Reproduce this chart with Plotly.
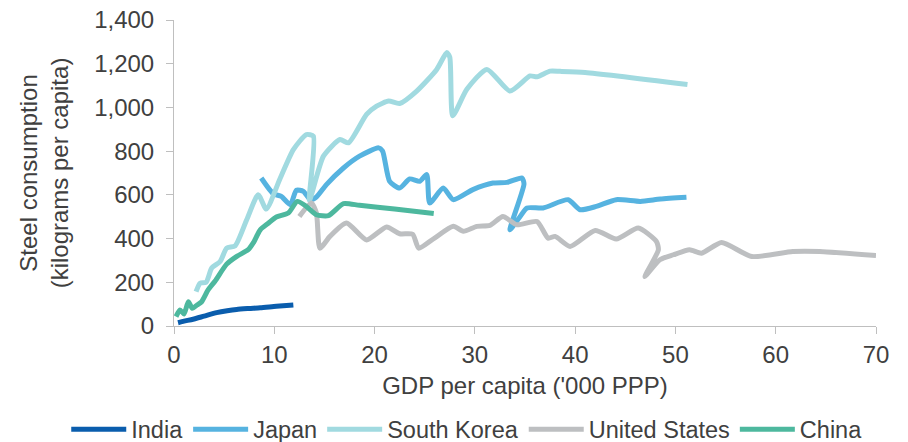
import plotly.graph_objects as go

india_x = [0.4, 1.0, 1.9, 3.0, 4.25, 5.3, 6.25, 7.5, 8.6, 10.2, 11.9]
india_y = [15, 22, 31, 45, 61, 70, 76, 80, 83, 90, 96]

japan_x = [8.7, 9.9, 10.7, 11.6, 12.2, 12.9, 13.6, 14.2, 15.2, 16.9, 18.5, 20.4, 20.8, 21.5, 22.5, 23.5, 24.5, 25.2, 25.5, 26.85, 27.85, 29.8, 31.8, 33.2, 34.7, 34.9, 33.5, 34.5, 35.2, 36.8, 39.3, 40.5, 42.1, 44.1, 46.5, 48.5, 51.1]
japan_y = [677, 605, 593, 555, 621, 616, 578, 590, 647, 723, 777, 815, 800, 662, 631, 673, 662, 693, 563, 631, 578, 624, 654, 657, 677, 650, 440, 500, 540, 540, 578, 532, 547, 578, 570, 581, 589]

korea_x = [2.2, 2.6, 3.2, 3.76, 4.6, 5.25, 6.1, 7.25, 8.4, 9.2, 10.6, 11.9, 13.2, 13.9, 13.5, 14.9, 16.55, 17.4, 19.2, 20.2, 21.4, 22.5, 24.2, 26.2, 27.2, 27.5, 27.8, 29.2, 31.2, 33.5, 35.5, 36.2, 37.5, 38.5, 41.0, 51.2]
korea_y = [157, 196, 200, 265, 295, 356, 367, 486, 601, 535, 677, 807, 876, 868, 575, 777, 853, 838, 968, 1006, 1029, 1018, 1075, 1174, 1251, 1230, 962, 1083, 1174, 1075, 1144, 1140, 1166, 1165, 1160, 1105]

us_x = [12.5, 13.7, 14.2, 14.55, 15.55, 17.2, 19.2, 21.2, 22.5, 23.8, 24.4, 25.85, 27.85, 28.85, 30.2, 31.5, 32.8, 34.2, 36.2, 37.3, 38.0, 39.5, 42.0, 44.1, 46.3, 48.1, 48.3, 46.95, 48.45, 49.8, 51.4, 52.6, 54.6, 57.6, 61.7, 64.4, 70.0]
us_y = [501, 563, 517, 356, 410, 471, 394, 453, 422, 420, 356, 398, 456, 433, 456, 460, 501, 463, 478, 402, 410, 364, 437, 398, 448, 387, 349, 226, 303, 326, 349, 333, 382, 318, 341, 341, 322]

china_x = [0.2, 0.6, 1.0, 1.43, 1.83, 2.3, 2.76, 3.4, 4.1, 5.25, 6.3, 7.4, 7.9, 8.6, 9.4, 10.2, 11.4, 12.3, 13.2, 14.2, 15.4, 16.9, 18.5, 22.0, 25.9]
china_y = [43, 73, 55, 111, 81, 96, 111, 165, 206, 283, 320, 349, 380, 440, 470, 499, 517, 570, 547, 509, 505, 560, 552, 535, 515]

series = [
    ("India", india_x, india_y, "#0A5DAD"),
    ("Japan", japan_x, japan_y, "#56B3E0"),
    ("South Korea", korea_x, korea_y, "#A1DAE0"),
    ("United States", us_x, us_y, "#BDBFC1"),
    ("China", china_x, china_y, "#4DB89E"),
]

font_family = "Liberation Sans, Arial, sans-serif"
text_color = "#404040"

fig = go.Figure()
for name, xs, ys, color in series:
    fig.add_trace(go.Scatter(
        x=xs, y=ys, name=name, mode="lines",
        line=dict(color=color, width=5, shape="spline", smoothing=0.6),
    ))

fig.update_layout(
    width=908, height=442,
    margin=dict(l=174, r=32, t=20, b=116, autoexpand=False),
    paper_bgcolor="white", plot_bgcolor="white",
    font=dict(family=font_family, size=24, color=text_color),
    showlegend=True,
    legend=dict(orientation="h", xref="paper", x=-0.1535, xanchor="left",
                yref="paper", y=-0.266, yanchor="top",
                font=dict(size=23.5, color=text_color), itemwidth=55,
                tracegroupgap=0),
)
fig.update_xaxes(
    range=[0, 70], tickvals=[0, 10, 20, 30, 40, 50, 60, 70],
    showgrid=False, zeroline=False, showline=True, linecolor="#BFBFBF", linewidth=1,
    ticks="outside", ticklen=7, tickcolor="#BFBFBF",
    tickfont=dict(size=24, color=text_color),
    title=dict(text="GDP per capita ('000 PPP)", font=dict(size=24, color=text_color), standoff=10),
)
fig.update_yaxes(
    range=[0, 1400], tickvals=[0, 200, 400, 600, 800, 1000, 1200, 1400],
    tickformat=",d", ticklabelstandoff=7,
    showgrid=False, zeroline=False, showline=True, linecolor="#BFBFBF", linewidth=1,
    ticks="outside", ticklen=7, tickcolor="#BFBFBF",
    tickfont=dict(size=24, color=text_color),
    title=dict(text="Steel consumption<br>(kilograms per capita)", font=dict(size=24, color=text_color), standoff=18),
)

fig.write_html("out.html")
